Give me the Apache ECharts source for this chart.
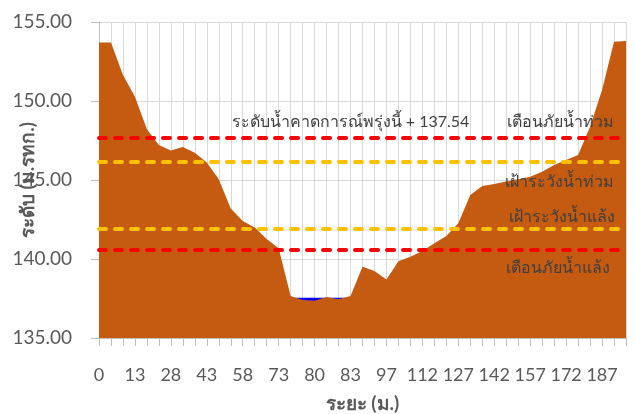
<!DOCTYPE html>
<html>
<head>
<meta charset="utf-8">
<script src="https://cdn.jsdelivr.net/npm/echarts@6/dist/echarts.min.js"></script>
<style>
  html, body { margin: 0; padding: 0; background: #fff; }
  #chart { width: 635px; height: 414px; }
</style>
</head>
<body>
<div id="chart"></div>
<script>
// ระยะ (ม.)
var categories = ['0','5','10','13','18','23','28','33','38','43','48','53','58','63','68',
    '73','75','78','80','81','82','83','88','93','97','102','107','112','117','122',
    '127','132','137','142','147','152','157','162','167','172','177','182','187','192','195'];

// ระดับท้องน้ำ/ตลิ่ง (ม.รทก.)
var groundLevel = [153.71, 153.71, 151.65, 150.27, 148.21, 147.22, 146.86, 147.09, 146.72, 146.10,
    145.04, 143.20, 142.40, 142.00, 141.27, 140.68, 137.66, 137.41, 137.36, 137.60,
    137.45, 137.66, 139.51, 139.24, 138.71, 139.85, 140.15, 140.50, 141.00, 141.45,
    142.26, 144.05, 144.62, 144.75, 144.90, 145.04, 145.21, 145.53, 145.95, 146.27,
    146.58, 148.37, 150.70, 153.75, 153.80];

// ระดับน้ำคาดการณ์พรุ่งนี้
var waterLevel = 137.54;

// เกณฑ์
var floodWarning = 147.68;
var floodWatch = 146.16;
var droughtWatch = 141.94;
var droughtWarning = 140.57;

var yTicks = [135, 140, 145, 150, 155];

var waterData = categories.map(function () { return waterLevel; });

var txtFont = 'Lato, "Noto Sans", sans-serif';

function dashed(color) {
    return { color: color, width: 4, type: [7, 9], cap: 'round' };
}

var myChart = echarts.init(document.getElementById('chart'));

var option = {
    animation: false,
    textStyle: { fontFamily: txtFont },
    grid: { left: 99, right: 9, top: 22, bottom: 76, containLabel: false, outerBoundsMode: 'none' },
    xAxis: {
        type: 'category',
        boundaryGap: false,
        data: categories,
        name: 'ระยะ (ม.)',
        nameLocation: 'middle',
        nameGap: 56,
        nameMoveOverlap: false,
        nameTextStyle: { color: '#595959', fontSize: 19, fontWeight: 'bold' },
        axisLine: { lineStyle: { color: '#BFBFBF' } },
        axisTick: { show: true, interval: 0, length: 8, lineStyle: { color: '#BFBFBF' } },
        axisLabel: { interval: 2, color: '#595959', fontSize: 18, margin: 28 },
        splitLine: { show: true, interval: 0, lineStyle: { color: '#D9D9D9' } }
    },
    yAxis: {
        type: 'value',
        min: yTicks[0],
        max: yTicks[yTicks.length - 1],
        interval: 5,
        name: 'ระดับ (ม.รทก.)',
        nameLocation: 'middle',
        nameRotate: 90,
        nameGap: 62,
        nameMoveOverlap: false,
        nameTextStyle: { color: '#595959', fontSize: 19, fontWeight: 'bold' },
        axisLine: { show: true, lineStyle: { color: '#BFBFBF' } },
        axisTick: { show: true, length: 8, lineStyle: { color: '#BFBFBF' } },
        axisLabel: {
            color: '#595959', fontSize: 19, margin: 27,
            formatter: function (v) { return v.toFixed(2); }
        },
        splitLine: { lineStyle: { color: '#D9D9D9' } }
    },
    series: [
        {
            name: 'ระดับน้ำ',
            type: 'line',
            data: waterData,
            showSymbol: false,
            lineStyle: { width: 0 },
            areaStyle: { color: '#0000FF', opacity: 1, origin: 'start' },
            z: 2
        },
        {
            name: 'ตลิ่ง',
            type: 'line',
            data: groundLevel,
            showSymbol: false,
            lineStyle: { width: 0 },
            areaStyle: { color: '#C55A11', opacity: 1, origin: 'start' },
            z: 3,
            markLine: {
                silent: true,
                symbol: ['none', 'none'],
                label: { color: '#404040', fontSize: 16 },
                data: [
                    { yAxis: floodWarning, lineStyle: dashed('#FF0000'),
                      label: { formatter: 'เตือนภัยน้ำท่วม', position: 'insideEndTop', distance: [12, 8] } },
                    { yAxis: floodWatch, lineStyle: dashed('#FFC000'),
                      label: { formatter: 'เฝ้าระวังน้ำท่วม', position: 'insideEndBottom', distance: [12, 12] } },
                    { yAxis: droughtWatch, lineStyle: dashed('#FFC000'),
                      label: { formatter: 'เฝ้าระวังน้ำแล้ง', position: 'insideEndTop', distance: [11, 4] } },
                    { yAxis: droughtWarning, lineStyle: dashed('#FF0000'),
                      label: { formatter: 'เตือนภัยน้ำแล้ง', position: 'insideEndBottom', distance: [16, 10] } }
                ]
            }
        },
        {
            name: 'คาดการณ์',
            type: 'line',
            data: [],
            markLine: {
                silent: true,
                symbol: ['none', 'none'],
                lineStyle: { color: 'rgba(0,0,0,0)', width: 0 },
                label: { color: '#404040', fontSize: 16 },
                data: [
                    { yAxis: floodWarning,
                      label: { formatter: 'ระดับน้ำคาดการณ์พรุ่งนี้ + ' + waterLevel.toFixed(2),
                               position: 'insideMiddleTop', distance: 8, offset: [-12, 0] } }
                ]
            }
        }
    ]
};

myChart.setOption(option);
</script>
</body>
</html>
